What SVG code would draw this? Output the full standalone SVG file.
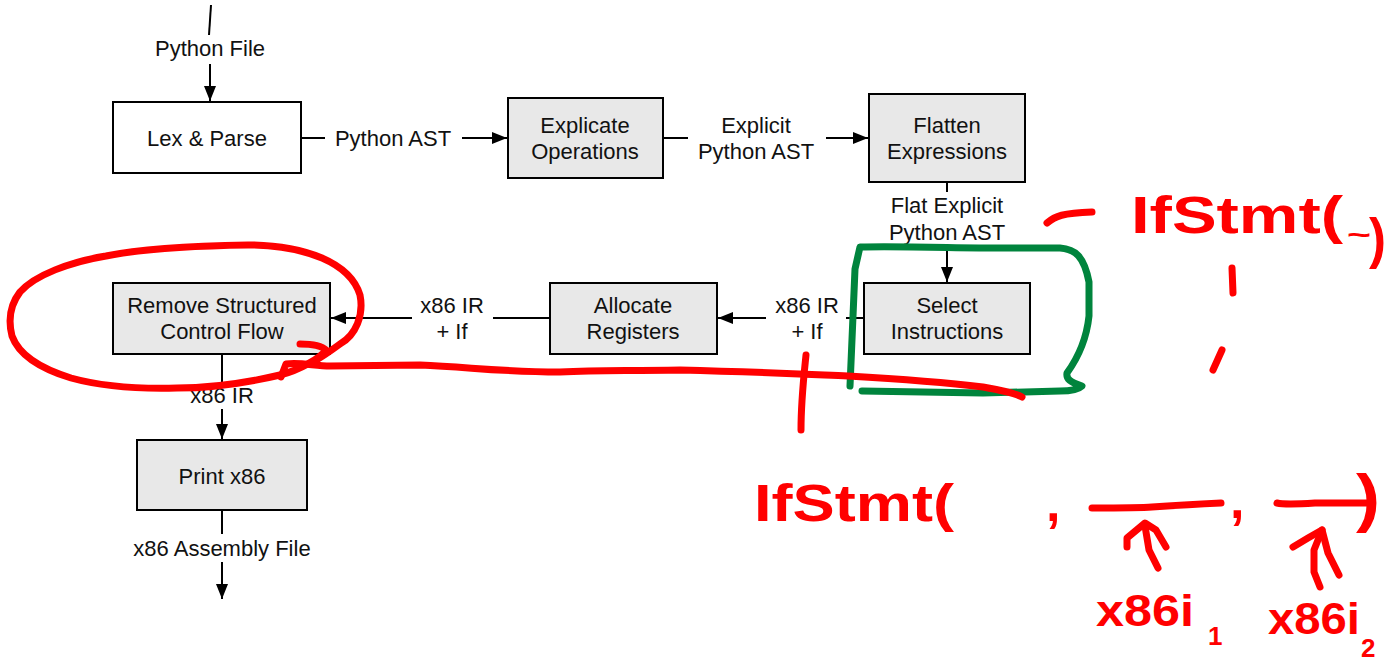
<svg xmlns="http://www.w3.org/2000/svg" width="1386" height="666" viewBox="0 0 1386 666">
<style>
.box{stroke:#000;stroke-width:2}
.gray{fill:#e8e8e8}
.white{fill:#fff}
.t{font-family:"Liberation Sans",Arial,sans-serif;font-size:22px;fill:#111;text-anchor:middle}
.c{fill:none;stroke:#000;stroke-width:2}
.red{fill:none;stroke:#ff0000;stroke-width:7;stroke-linecap:round;stroke-linejoin:round}
.green{fill:none;stroke:#00843d;stroke-width:7;stroke-linecap:round;stroke-linejoin:round}
.hw{font-family:"Liberation Sans",Arial,sans-serif;font-weight:bold;fill:#ff0000}
</style>
<defs>
<marker id="ah" markerUnits="userSpaceOnUse" markerWidth="15" markerHeight="12" refX="15" refY="6" orient="auto">
<path d="M0,0 L15,6 L0,12 z" fill="#000"/>
</marker>
</defs>
<rect width="1386" height="666" fill="#fff"/>

<g id="connectors">
<path class="c" d="M211,5 L209,35"/>
<text class="t" x="210" y="56">Python File</text>
<path class="c" d="M210,64 L210,101" marker-end="url(#ah)"/>

<path class="c" d="M301,138 L325,138"/>
<text class="t" x="393" y="146">Python AST</text>
<path class="c" d="M462,138 L507,138" marker-end="url(#ah)"/>

<path class="c" d="M663,138 L688,138"/>
<text class="t" x="756" y="133">Explicit</text>
<text class="t" x="756" y="159">Python AST</text>
<path class="c" d="M826,138 L868,138" marker-end="url(#ah)"/>

<path class="c" d="M947,182 L947,192"/>
<text class="t" x="947" y="213">Flat Explicit</text>
<text class="t" x="947" y="240">Python AST</text>
<path class="c" d="M947,247 L947,282" marker-end="url(#ah)"/>

<path class="c" d="M864,318 L846,318"/>
<text class="t" x="807" y="313">x86 IR</text>
<text class="t" x="807" y="339">+ If</text>
<path class="c" d="M766,318 L718,318" marker-end="url(#ah)"/>

<path class="c" d="M550,318 L493,318"/>
<text class="t" x="452" y="313">x86 IR</text>
<text class="t" x="452" y="339">+ If</text>
<path class="c" d="M412,318 L331,318" marker-end="url(#ah)"/>

<path class="c" d="M222,354 L222,383"/>
<text class="t" x="222" y="403">x86 IR</text>
<path class="c" d="M222,409 L222,439" marker-end="url(#ah)"/>

<path class="c" d="M222,510 L222,534"/>
<text class="t" x="222" y="556">x86 Assembly File</text>
<path class="c" d="M222,562 L222,599" marker-end="url(#ah)"/>
</g>

<g id="lex">
<rect class="box white" x="113" y="102" width="188" height="71"/>
<text class="t" x="207" y="146">Lex &amp; Parse</text>
</g>
<g id="explicate">
<rect class="box gray" x="508" y="98" width="155" height="80"/>
<text class="t" x="585" y="133">Explicate</text>
<text class="t" x="585" y="159">Operations</text>
</g>
<g id="flatten">
<rect class="box gray" x="869" y="94" width="156" height="88"/>
<text class="t" x="947" y="133">Flatten</text>
<text class="t" x="947" y="159">Expressions</text>
</g>
<g id="select">
<rect class="box gray" x="864" y="283" width="166" height="71"/>
<text class="t" x="947" y="313">Select</text>
<text class="t" x="947" y="339">Instructions</text>
</g>
<g id="allocate">
<rect class="box gray" x="550" y="283" width="167" height="71"/>
<text class="t" x="633" y="313">Allocate</text>
<text class="t" x="633" y="339">Registers</text>
</g>
<g id="remove">
<rect class="box gray" x="113" y="283" width="217" height="71"/>
<text class="t" x="222" y="313">Remove Structured</text>
<text class="t" x="222" y="339">Control Flow</text>
</g>
<g id="print">
<rect class="box gray" x="137" y="440" width="170" height="70"/>
<text class="t" x="222" y="484">Print x86</text>
</g>

<g id="annotations">
<path class="green" d="M850,386 L853,316 L855,269 L860,247 C900,246 960,248 1000,248 L1060,248 C1075,249 1084,256 1089,282 L1089,316 C1087,335 1080,355 1067,373 C1066,379 1070,382 1082,386 C1078,390 1070,391 1060,391 L983,393 L862,391"/>
<path class="red" d="M300,344 C312,344 322,346 326,350 C320,358 300,370 280,375 C250,382 210,388 177,388 C140,389 100,386 71,378 C45,370 20,358 12,336 C8,320 10,305 20,292 C35,275 70,262 106,256 C140,249 180,246 248,245 C275,245 300,249 322,258 C345,268 356,282 360,295 C364,315 356,335 340,344 C325,355 318,360 312,362"/>
<path class="red" d="M281,377 L286,364 C300,362 315,366 330,366 L420,365 C470,367 500,372 560,372 C600,370 620,371 680,370 C760,372 800,374 848,376 C900,379 950,383 983,387 C1000,390 1015,393 1022,397"/>
<path class="red" d="M806,355 C804,375 801,400 801,430"/>
<path class="red" d="M1047,223 C1055,216 1063,213 1092,212"/>
<text class="hw" x="1131" y="233" font-size="52" textLength="212" lengthAdjust="spacingAndGlyphs">IfStmt(</text>
<text class="hw" x="1347" y="244" font-size="28" textLength="24" lengthAdjust="spacingAndGlyphs">~</text>
<text class="hw" x="1369" y="257" font-size="56" textLength="17" lengthAdjust="spacingAndGlyphs">)</text>
<path class="red" d="M1232,268 L1233,293"/>
<path class="red" d="M1222,350 L1213,370"/>

<text class="hw" x="754" y="521" font-size="52" textLength="200" lengthAdjust="spacingAndGlyphs">IfStmt(</text>
<text class="hw" x="1046" y="521" font-size="52">,</text>
<path class="red" d="M1092,508 C1120,508 1140,508 1152,507 C1180,505 1200,504 1221,503"/>
<text class="hw" x="1230" y="518" font-size="52">,</text>
<path class="red" d="M1277,503 C1285,505 1300,504 1316,503 L1372,503"/>
<text class="hw" x="1356" y="520" font-size="64" textLength="24" lengthAdjust="spacingAndGlyphs">)</text>
<path class="red" d="M1158,568 L1149,550 L1145,526"/>
<path class="red" d="M1127,547 L1127,538 L1145,523 L1156,530 L1166,547"/>
<path class="red" d="M1320,587 L1314,572 L1314,550 L1322,530"/>
<path class="red" d="M1293,547 L1308,538 L1322,530 L1328,553 L1339,575"/>
<text class="hw" x="1096" y="626" font-size="44" textLength="98" lengthAdjust="spacingAndGlyphs">x86i</text>
<text class="hw" x="1208" y="645" font-size="26">1</text>
<text class="hw" x="1268" y="634" font-size="44" textLength="92" lengthAdjust="spacingAndGlyphs">x86i</text>
<text class="hw" x="1361" y="657" font-size="26">2</text>
</g>
</svg>
